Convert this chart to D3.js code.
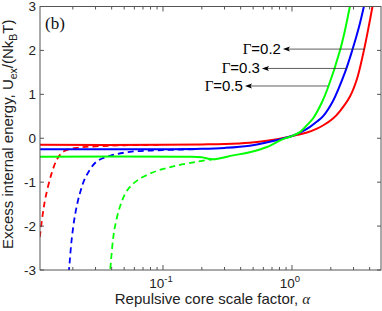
<!DOCTYPE html>
<html><head><meta charset="utf-8">
<script src="https://cdn.jsdelivr.net/npm/d3@7"></script>
<style>body{margin:0;background:#fff}svg{display:block}</style>
</head><body>
<script>
// ---- data (alpha, U_ex/(N k_B T)) ----
const redSolid = [[0.0111,-0.15],[0.1,-0.15],[0.2,-0.14],[0.3,-0.13],[0.47,-0.1],[0.7,-0.04],[1.0,0.05],[1.307,0.13],[1.562,0.22],[1.738,0.29],[2.08,0.45],[2.356,0.62],[2.815,0.95],[3.19,1.35],[3.55,1.9],[3.88,2.45],[4.24,3.05]];
const blueSolid = [[0.0111,-0.25],[0.1,-0.25],[0.2,-0.24],[0.3,-0.22],[0.47,-0.17],[0.7,-0.07],[1.0,0.05],[1.195,0.15],[1.379,0.26],[1.562,0.38],[1.738,0.5],[2.08,0.85],[2.576,1.5],[2.918,1.98],[3.30,2.52],[3.61,3.0],[3.7,3.15]];
const greenSolid = [[0.0111,-0.42],[0.15,-0.42],[0.2,-0.43],[0.24,-0.48],[0.35,-0.39],[0.47,-0.32],[0.64,-0.2],[0.85,-0.02],[1.0,0.05],[1.154,0.14],[1.307,0.3],[1.455,0.45],[1.708,0.82],[1.9,1.15],[2.356,2.0],[2.576,2.46],[2.815,3.0],[2.9,3.15]];
const redDashed = [[0.0111,-2.25],[0.0117,-1.72],[0.0123,-1.34],[0.0137,-0.8],[0.0152,-0.46],[0.0172,-0.29],[0.0227,-0.21],[0.0325,-0.18],[0.05,-0.16],[0.1,-0.15]];
const blueDashed = [[0.0183,-3.3],[0.0188,-2.9],[0.0196,-2.3],[0.0208,-1.75],[0.0227,-1.25],[0.0252,-0.88],[0.0306,-0.53],[0.0388,-0.4],[0.0555,-0.31],[0.1,-0.27],[0.18,-0.25]];
const greenDashed = [[0.0385,-3.2],[0.0395,-2.8],[0.041,-2.3],[0.0425,-2.0],[0.0465,-1.55],[0.0524,-1.2],[0.0625,-0.97],[0.083,-0.78],[0.12,-0.64],[0.18,-0.54],[0.24,-0.48]];
const yTicks = [-3,-2,-1,0,1,2,3];
const xMajorTicks = [0.1, 1];
const xMajorExp = ["-1","0"];
const gammaLabels = ["0.2","0.3","0.5"];
// annotation arrows: [tipAlpha, U, tailAlpha]
const arrows = [[0.851,2.03,3.68],[0.585,1.59,2.67],[0.432,1.19,1.9]];

const W=382,H=311;
const L=40,R=381,T=6.5,B=270;
const x = d3.scaleLog().domain([0.01113,4.9]).range([L,R]);
const y = d3.scaleLinear().domain([-3,3]).range([B,T]);

const svg = d3.select("body").append("svg").attr("width",W).attr("height",H);
svg.append("defs").append("clipPath").attr("id","clip")
  .append("rect").attr("x",L).attr("y",T).attr("width",R-L).attr("height",B-T);

const line = d3.line().x(d=>x(d[0])).y(d=>y(d[1])).curve(d3.curveCatmullRom.alpha(0.5));
const g = svg.append("g").attr("clip-path","url(#clip)");
const series = [
  [redDashed,"#ff0000",true],[blueDashed,"#0000ff",true],[greenDashed,"#00ff00",true],
  [redSolid,"#ff0000",false],[blueSolid,"#0000ff",false],[greenSolid,"#00ff00",false]
];
series.forEach(([d,c,dash])=>{
  g.append("path").attr("d",line(d)).attr("fill","none").attr("stroke",c)
   .attr("stroke-width",dash?1.8:2).attr("stroke-dasharray",dash?"6,4":null);
});

// axes box
const ax = svg.append("g").attr("stroke","#555").attr("stroke-width",1);
ax.append("rect").attr("x",L).attr("y",T).attr("width",R-L).attr("height",B-T).attr("fill","none");
yTicks.forEach(v=>{
  ax.append("line").attr("x1",L).attr("x2",L+4).attr("y1",y(v)).attr("y2",y(v));
  ax.append("line").attr("x1",R-4).attr("x2",R).attr("y1",y(v)).attr("y2",y(v));
});
const allX = x.ticks(20).filter(v=>v>x.domain()[0]&&v<x.domain()[1]);
allX.forEach(v=>{
  const major = xMajorTicks.some(m=>Math.abs(m-v)<1e-9);
  const len = major?5:3;
  ax.append("line").attr("x1",x(v)).attr("x2",x(v)).attr("y1",B).attr("y2",B-len);
  ax.append("line").attr("x1",x(v)).attr("x2",x(v)).attr("y1",T).attr("y2",T+len);
});

const sans = "'Liberation Sans', Arial, Helvetica, sans-serif";
const serif = "'Liberation Serif', 'Times New Roman', serif";
yTicks.forEach(v=>{
  svg.append("text").attr("x",36).attr("y",y(v)+4.8).attr("text-anchor","end")
    .attr("font-family",sans).attr("font-size",13.5).attr("fill","#222").text(v);
});
xMajorTicks.forEach((v,i)=>{
  const t = svg.append("text").attr("x",x(v)-2).attr("y",288).attr("text-anchor","middle")
    .attr("font-family",sans).attr("font-size",13.5).attr("fill","#222");
  t.append("tspan").text("10");
  t.append("tspan").attr("dy",-6).attr("font-size",9.5).text(xMajorExp[i]);
});
const xt = svg.append("text").attr("x",(L+R)/2+2).attr("y",304).attr("text-anchor","middle")
  .attr("font-family",sans).attr("font-size",15).attr("fill","#222");
xt.append("tspan").text("Repulsive core scale factor, ");
xt.append("tspan").attr("font-family",serif).attr("font-style","italic").text("α");
const yt = svg.append("text").attr("transform","translate(13,"+((T+B)/2-4)+") rotate(-90)")
  .attr("text-anchor","middle").attr("font-family",sans).attr("font-size",15).attr("fill","#222");
yt.append("tspan").text("Excess internal energy, U");
yt.append("tspan").attr("dy",3.5).attr("font-size",10.5).text("ex");
yt.append("tspan").attr("dy",-3.5).text("/(Nk");
yt.append("tspan").attr("dy",3.5).attr("font-size",10.5).text("B");
yt.append("tspan").attr("dy",-3.5).text("T)");
svg.append("text").attr("x",45).attr("y",29).attr("font-family",serif).attr("font-size",17).attr("fill","#111").text("(b)");

arrows.forEach((a,i)=>{
  const tx=x(a[0]), ty=y(a[1]), ex=x(a[2]);
  svg.append("line").attr("x1",tx+5).attr("x2",ex).attr("y1",ty).attr("y2",ty)
    .attr("stroke","#333").attr("stroke-width",0.8);
  svg.append("path").attr("d",`M${tx},${ty}L${tx+7},${ty-2.5}L${tx+5.5},${ty}L${tx+7},${ty+2.5}Z`).attr("fill","#000");
  const t = svg.append("text").attr("x",tx-2).attr("y",ty+5).attr("text-anchor","end")
    .attr("font-size",15).attr("fill","#000");
  t.append("tspan").attr("font-family",serif).text("Γ");
  t.append("tspan").attr("font-family",sans).text("="+gammaLabels[i]);
});
</script>
</body></html>
